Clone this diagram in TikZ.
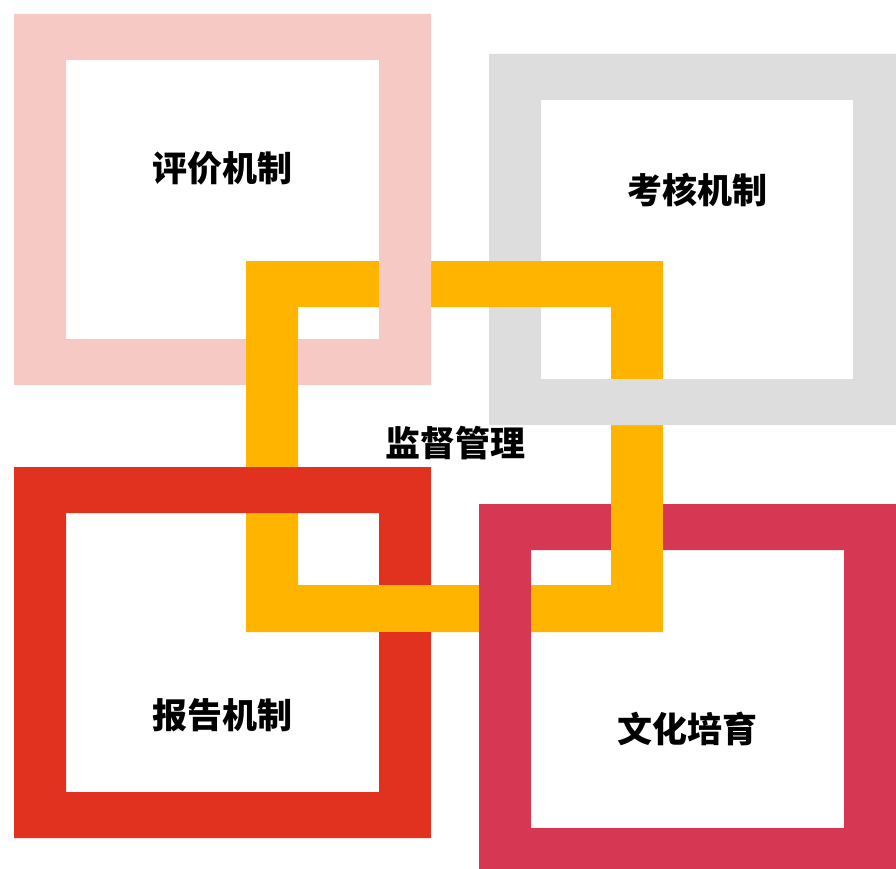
\documentclass[tikz,border=0pt]{standalone}
\usepackage{fontspec}
\newfontfamily\cjk{Noto Sans CJK SC}
\definecolor{cpink}{HTML}{F7C9C5}
\definecolor{cgray}{HTML}{DDDDDD}
\definecolor{cyel}{HTML}{FFB500}
\definecolor{cred}{HTML}{E0321F}
\definecolor{ccrim}{HTML}{D63752}
\tikzset{
  lbl/.style={font=\cjk\bfseries\fontsize{35}{40}\selectfont, text=black, inner sep=0pt},
  ringfill/.style={fill=#1, even odd rule}
}
\begin{document}
\begin{tikzpicture}[x=1pt,y=-1pt]
\useasboundingbox (0,0) rectangle (896,869);
\clip (0,0) rectangle (896,869);
% central yellow frame
\fill[ringfill=cyel] (246,261) rectangle (663,632) (298,307) rectangle (611,585);
% outer frames
\fill[ringfill=cpink] (14,14) rectangle (431,385) (66,60) rectangle (379,339);
\fill[ringfill=cgray] (489,54) rectangle (905,425) (541,100) rectangle (853,379);
\fill[ringfill=cred] (14,467) rectangle (431,838) (66,513) rectangle (379,792);
\fill[ringfill=ccrim] (479,504) rectangle (896,874) (531,550) rectangle (844,828);
% yellow over-crossings
\fill[cyel] (246,338.4) rectangle (298,385.6);
\fill[cyel] (488.4,261) rectangle (541.6,307);
\fill[cyel] (378.4,585) rectangle (431.6,632);
\fill[cyel] (611,503.4) rectangle (663,550.6);
% labels
\node[lbl] (pj) at (222,168) {评价机制};
\node[lbl] (kh) at (697,190) {考核机制};
\node[lbl] (jd) at (455,443) {监督管理};
\node[lbl] (bg) at (222,715) {报告机制};
\node[lbl] (wh) at (687,729) {文化培育};
\end{tikzpicture}
\end{document}
